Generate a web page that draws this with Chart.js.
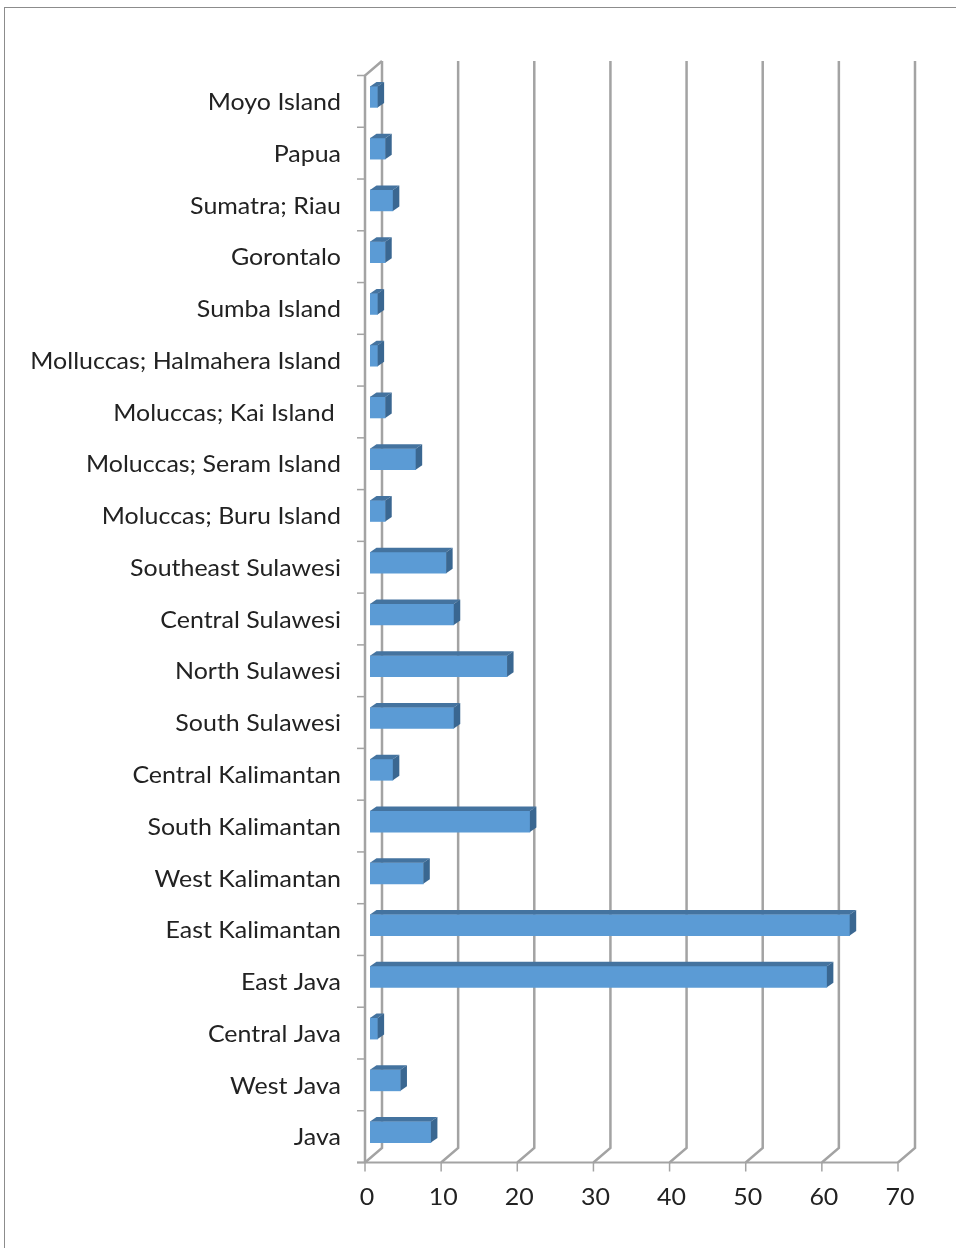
<!DOCTYPE html>
<html>
<head>
<meta charset="utf-8">
<script src="https://cdn.jsdelivr.net/npm/chart.js@4/dist/chart.umd.min.js"></script>
<style>
  html, body { margin: 0; padding: 0; background: #fff; }
  #wrap { position: relative; width: 956px; height: 1248px; overflow: hidden; }
  #frame { position: absolute; left: 4px; top: 7px; width: 1100px; height: 1400px; border: 1px solid #8c8c8c; }
  canvas { position: absolute; left: 0; top: 0; }
</style>
</head>
<body>
<div id="wrap">
  <div id="frame"></div>
  <canvas id="plot" width="956" height="1248"></canvas>
</div>
<script>
// regiones, de arriba hacia abajo
const regiones = ['Moyo Island', 'Papua', 'Sumatra; Riau', 'Gorontalo', 'Sumba Island',
  'Molluccas; Halmahera Island', 'Moluccas; Kai Island ', 'Moluccas; Seram Island',
  'Moluccas; Buru Island', 'Southeast Sulawesi', 'Central Sulawesi', 'North Sulawesi',
  'South Sulawesi', 'Central Kalimantan', 'South Kalimantan', 'West Kalimantan',
  'East Kalimantan', 'East Java', 'Central Java', 'West Java', 'Java'];
const valores = [1, 2, 3, 2, 1, 1, 2, 6, 2, 10, 11, 18, 11, 3, 21, 7, 63, 60, 1, 4, 8];
const ticksX = [0, 10, 20, 30, 40, 50, 60, 70];

const fuente = '24px Lato';
const estirar = 1.04;
const gris = '#a3a3a3';
// desplazamientos de profundidad (respecto al plano de las barras)
const frente = { dx: -5, dy: 4.5 };
const fondo = { dx: 12, dy: -10 };
const prof = { dx: 6.5, dy: -4.5 };

let linea = (ctx, pts, color, ancho) => {
  ctx.beginPath()
  ctx.moveTo(pts[0][0], pts[0][1])
  for (let i = 1; i < pts.length; i++) ctx.lineTo(pts[i][0], pts[i][1])
  ctx.strokeStyle = color
  ctx.lineWidth = ancho
  ctx.stroke()
}

let texto = (ctx, t, x, y) => {
  ctx.save()
  ctx.translate(x, y)
  ctx.scale(estirar, 1)
  ctx.fillText(t, 0, 0)
  ctx.restore()
}

// paredes, ejes y etiquetas en pseudo 3D
let paredes = {
  id: 'paredes',
  beforeDatasetsDraw(chart) {
    const ctx = chart.ctx
    const x = chart.scales.x
    const y = chart.scales.y
    const top = chart.chartArea.top
    const bottom = chart.chartArea.bottom
    const x0 = x.getPixelForValue(0)
    ctx.save()
    ctx.lineCap = 'butt'

    // lineas de la pared del fondo y diagonales del piso
    ticksX.forEach(v => {
      const px = x.getPixelForValue(v)
      linea(ctx, [[px + fondo.dx, top + fondo.dy], [px + fondo.dx, bottom + fondo.dy],
        [px + frente.dx, bottom + frente.dy]], gris, 2.5)
    })

    // pared izquierda
    linea(ctx, [[x0 + fondo.dx, top + fondo.dy], [x0 + frente.dx, top + frente.dy],
      [x0 + frente.dx, bottom + frente.dy]], gris, 2.5)

    // eje del piso
    const xFin = x.getPixelForValue(70)
    linea(ctx, [[x0 + frente.dx - 8, bottom + frente.dy], [xFin + frente.dx, bottom + frente.dy]], gris, 2)
    ticksX.forEach(v => {
      const px = x.getPixelForValue(v) + frente.dx
      linea(ctx, [[px, bottom + frente.dy], [px, bottom + frente.dy + 9]], gris, 1.5)
    })

    // marcas del eje de categorias
    const paso = y.getPixelForValue(1) - y.getPixelForValue(0)
    for (let i = 0; i <= regiones.length; i++) {
      const py = y.getPixelForValue(0) - paso / 2 + i * paso + frente.dy
      linea(ctx, [[x0 + frente.dx - 8, py], [x0 + frente.dx, py]], gris, 1.5)
    }

    // etiquetas
    ctx.fillStyle = '#222222'
    ctx.font = fuente
    ctx.textAlign = 'right'
    ctx.textBaseline = 'middle'
    regiones.forEach((r, i) => {
      texto(ctx, r, x0 + frente.dx - 24, y.getPixelForValue(i) + frente.dy + 1)
    })
    ctx.textAlign = 'center'
    ticksX.forEach(v => {
      texto(ctx, String(v), x.getPixelForValue(v) + frente.dx + 2, bottom + frente.dy + 35)
    })
    ctx.restore()
  },
  afterDatasetsDraw(chart) {
    const ctx = chart.ctx
    const meta = chart.getDatasetMeta(0)
    ctx.save()
    meta.data.forEach(bar => {
      const p = bar.getProps(['x', 'y', 'base', 'height'], true)
      const x1 = p.x
      const xb = p.base
      const t = p.y - p.height / 2
      const b = p.y + p.height / 2
      // cara superior
      ctx.beginPath()
      ctx.moveTo(xb, t)
      ctx.lineTo(x1, t)
      ctx.lineTo(x1 + prof.dx, t + prof.dy)
      ctx.lineTo(xb + prof.dx, t + prof.dy)
      ctx.closePath()
      ctx.fillStyle = '#44739f'
      ctx.fill()
      // cara lateral
      ctx.beginPath()
      ctx.moveTo(x1, t)
      ctx.lineTo(x1 + prof.dx, t + prof.dy)
      ctx.lineTo(x1 + prof.dx, b + prof.dy)
      ctx.lineTo(x1, b)
      ctx.closePath()
      ctx.fillStyle = '#3a6791'
      ctx.fill()
    })
    ctx.restore()
  }
}

let plotRef = document.getElementById('plot')

let config = {
  type: 'bar',
  data: {
    labels: regiones,
    datasets: [
      {
        label: 'Serie 1',
        data: valores,
        backgroundColor: '#5b9bd5',
        borderWidth: 0,
        barThickness: 21
      }
    ]
  },
  options: {
    indexAxis: 'y',
    responsive: false,
    animation: false,
    layout: { padding: { left: 370, right: 53, top: 71, bottom: 90 } },
    plugins: { legend: { display: false }, tooltip: { enabled: false } },
    scales: {
      x: { display: false, min: 0, max: 70 },
      y: { display: false, offset: true }
    }
  },
  plugins: [paredes]
}

let chart1 = new Chart(plotRef, config)
</script>
</body>
</html>
